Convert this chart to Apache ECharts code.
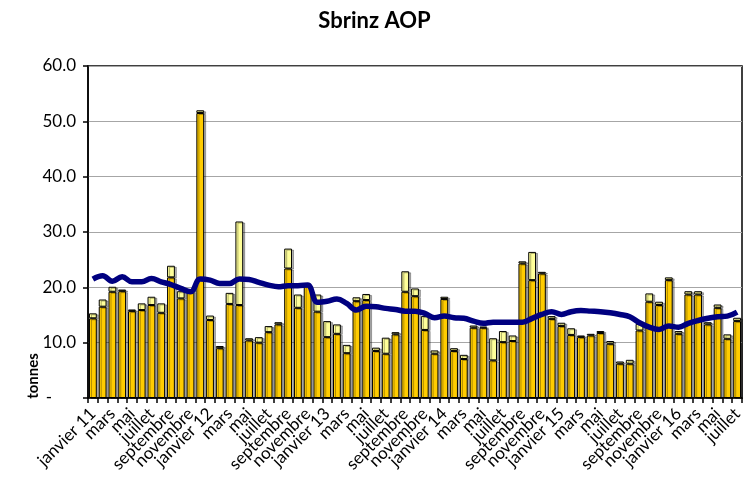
<!DOCTYPE html>
<html>
<head>
<meta charset="utf-8">
<script src="https://cdn.jsdelivr.net/npm/echarts@6/dist/echarts.min.js"></script>
<style>
html,body{margin:0;padding:0;background:#fff;}
#chart{width:749px;height:477px;}
</style>
</head>
<body>
<div id="chart"></div>
<script>
var categories = [
 "janvier 11","février","mars","avril","mai","juin","juillet","août","septembre","octobre","novembre","décembre",
 "janvier 12","février","mars","avril","mai","juin","juillet","août","septembre","octobre","novembre","décembre",
 "janvier 13","février","mars","avril","mai","juin","juillet","août","septembre","octobre","novembre","décembre",
 "janvier 14","février","mars","avril","mai","juin","juillet","août","septembre","octobre","novembre","décembre",
 "janvier 15","février","mars","avril","mai","juin","juillet","août","septembre","octobre","novembre","décembre",
 "janvier 16","février","mars","avril","mai","juin","juillet"
];
var baseValues = [
 14.4,16.5,19.2,19.3,15.7,15.9,16.8,15.4,21.8,18.0,19.3,51.5,
 14.1,9.0,17.0,16.8,10.4,10.0,11.9,13.3,23.4,16.3,20.2,15.6,
 11.0,11.6,8.1,17.5,17.7,8.5,8.0,11.5,19.2,18.4,12.3,8.0,
 17.9,8.5,7.05,12.7,12.7,6.8,10.1,10.3,24.3,21.3,22.5,14.3,
 13.0,11.4,11.0,11.3,11.75,9.8,6.2,6.2,12.2,17.4,16.8,21.3,
 11.6,18.7,18.7,13.3,16.3,10.7,13.9
];
var extraValues = [
 0.9,1.3,0.9,0.3,0.3,1.2,1.5,1.7,2.1,1.3,0.3,0.5,
 0.8,0.4,2.0,15.1,0.4,1.0,1.1,0.4,3.6,2.4,0.2,3.1,
 2.9,1.7,1.5,0.7,1.1,0.6,2.9,0.4,3.7,1.4,2.5,0.6,
 0.4,0.5,0.75,0.4,0.2,4.0,2.0,1.0,0.4,5.1,0.3,0.5,
 0.6,1.2,0.3,0.3,0.35,0.5,0.4,0.7,1.2,1.5,0.6,0.5,
 0.5,0.6,0.6,0.4,0.6,0.8,0.6
];
var averageValues = [
 21.5,22.1,21.1,21.9,21.0,21.0,21.6,21.0,20.5,19.8,19.2,21.5,
 21.3,20.7,20.7,21.5,21.4,20.9,20.4,20.1,20.3,20.3,20.4,17.3,
 17.5,17.9,17.1,15.9,16.6,16.5,16.2,16.0,15.7,15.7,15.3,14.5,
 14.8,14.5,14.4,13.9,13.5,13.7,13.7,13.7,13.7,14.4,15.1,15.6,
 15.1,15.6,15.8,15.7,15.6,15.4,15.1,14.7,13.6,12.8,12.4,13.0,
 12.8,13.5,14.0,14.4,14.7,14.8,15.5
];
var yTicks = [0,10,20,30,40,50,60];

var FONT = 'Lato';
var chart = echarts.init(document.getElementById('chart'), null, {renderer:'canvas'});
var barStyle = function(color){
  return {color:color, borderColor:'#000', borderWidth:1,
    shadowColor:'rgba(0,0,0,0.3)', shadowOffsetX:2, shadowOffsetY:1, shadowBlur:0};
};
var xLabel = function(fn){
  return {interval:fn, rotate:45, fontFamily:FONT, fontSize:17, color:'#000', margin:13, hideOverlap:false};
};
chart.setOption({
  animation:false,
  backgroundColor:'#fff',
  title:{text:'Sbrinz AOP', left:'center', top:5,
    textStyle:{fontFamily:FONT, fontSize:22, fontWeight:'bold', color:'#000'}},
  grid:{left:88, right:7, top:66, bottom:79, show:true, borderColor:'#000', borderWidth:1.5, backgroundColor:'transparent'},
  xAxis:[
    {type:'category', data:categories, boundaryGap:true, position:'bottom',
      axisLine:{show:true, lineStyle:{color:'#000', width:1.5}},
      axisTick:{show:true, interval:0, length:5, inside:false, lineStyle:{color:'#000', width:1.5}},
      axisLabel:xLabel(function(i){ return i % 4 === 2; }),
      splitLine:{show:false}},
    {type:'category', data:categories, boundaryGap:true, position:'bottom',
      axisLine:{show:false}, axisTick:{show:false},
      axisLabel:xLabel(function(i){ return i % 4 === 0; }),
      splitLine:{show:false}}
  ],
  yAxis:{type:'value', min:yTicks[0], max:yTicks[yTicks.length-1], interval:10,
    axisLine:{show:true, lineStyle:{color:'#000', width:1.5}},
    axisTick:{show:true, length:5, lineStyle:{color:'#000', width:1.5}},
    splitLine:{show:true, lineStyle:{color:'#a6a6a6', width:1}},
    axisLabel:{fontFamily:FONT, fontSize:17, color:'#000', margin:12,
      formatter:function(v){ return v===0 ? '{d|-}' : v.toFixed(1); },
      rich:{d:{fontFamily:FONT, fontSize:17, color:'#000', padding:[0,24,0,0]}}}},
  graphic:[{type:'text', x:33, y:376, rotation:Math.PI/2,
    style:{text:'tonnes', fontFamily:FONT, fontSize:15, fontWeight:'bold', fill:'#000', textAlign:'center', textVerticalAlign:'middle'}}],
  series:[
    {name:'base', type:'bar', stack:'t', data:baseValues, barCategoryGap:'20%', itemStyle:barStyle('#ffcc00'), z:2},
    {name:'extra', type:'bar', stack:'t', data:extraValues, itemStyle:barStyle('#ffff99'), z:2},
    {name:'moyenne', type:'line', data:averageValues, smooth:0.4, symbol:'none', z:5,
      lineStyle:{color:'#000080', width:5.5}}
  ]
});
</script>
</body>
</html>
